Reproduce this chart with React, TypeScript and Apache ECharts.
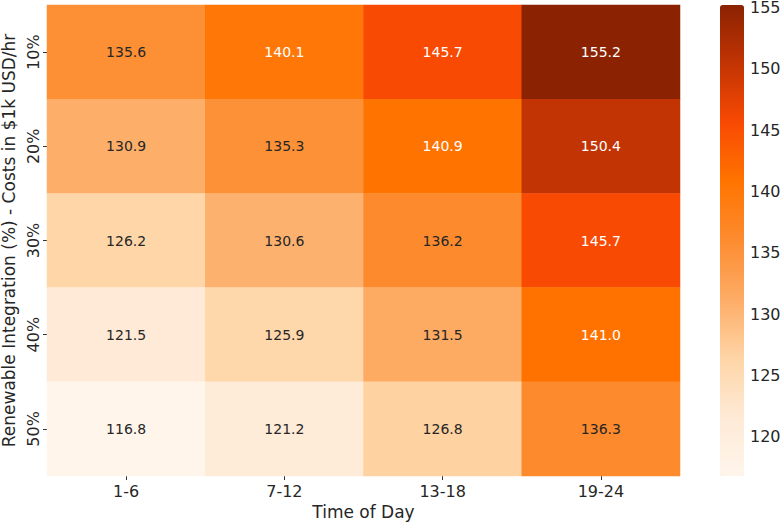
import React, { useEffect, useRef } from "react";
import * as echarts from "echarts";

const timeCategories = ["1-6", "7-12", "13-18", "19-24"];
const integrationLevels = ["10%", "20%", "30%", "40%", "50%"];
// rows: 10%, 20%, 30%, 40%, 50%; columns: 1-6, 7-12, 13-18, 19-24
const costs10 = [135.6, 140.1, 145.7, 155.2];
const costs20 = [130.9, 135.3, 140.9, 150.4];
const costs30 = [126.2, 130.6, 136.2, 145.7];
const costs40 = [121.5, 125.9, 131.5, 141.0];
const costs50 = [116.8, 121.2, 126.8, 136.3];
const colorbarTicks = [120, 125, 130, 135, 140, 145, 150, 155];
const valueMin = 116.8;
const valueMax = 155.2;

const FONT = "DejaVu Sans";
const TEXT = "#262626";

export default function App() {
  const ref = useRef<HTMLDivElement>(null);
  useEffect(() => {
    if (!ref.current) return;
    const chart = echarts.init(ref.current, null, { renderer: "svg" });
    const rows = [costs10, costs20, costs30, costs40, costs50];
    const data: any[] = [];
    rows.forEach((row, yi) => {
      row.forEach((v, xi) => {
        data.push({
          value: [xi, yi, v],
          label: { color: v > 138 ? "#ffffff" : TEXT },
        });
      });
    });
    chart.setOption({
      animation: false,
      textStyle: { fontFamily: FONT },
      grid: [
        { left: 47, top: 5, width: 633, height: 471, outerBoundsMode: "none", containLabel: false },
        { left: 720, top: 5, width: 24, height: 471, outerBoundsMode: "none", containLabel: false },
      ],
      xAxis: [
        {
          type: "category",
          data: timeCategories,
          gridIndex: 0,
          name: "Time of Day",
          nameLocation: "middle",
          nameGap: 27,
          nameTextStyle: { fontSize: 17, color: TEXT, fontFamily: FONT },
          axisLine: { show: false },
          axisTick: { show: true, alignWithLabel: true, length: 4, lineStyle: { color: "#333" } },
          axisLabel: { fontSize: 16, color: TEXT, margin: 7, fontFamily: FONT },
          splitLine: { show: false },
        },
        { type: "value", gridIndex: 1, show: false, min: 0, max: 1 },
      ],
      yAxis: [
        {
          type: "category",
          data: integrationLevels,
          gridIndex: 0,
          inverse: true,
          name: "Renewable Integration (%) - Costs in $1k USD/hr",
          nameLocation: "middle",
          nameGap: 29,
          nameTextStyle: { fontSize: 17, color: TEXT, fontFamily: FONT },
          axisLine: { show: false },
          axisTick: { show: true, alignWithLabel: true, length: 4, lineStyle: { color: "#333" } },
          axisLabel: { fontSize: 16, color: TEXT, rotate: 90, margin: 6, fontFamily: FONT },
          splitLine: { show: false },
        },
        {
          type: "value",
          gridIndex: 1,
          position: "right",
          min: valueMin,
          max: valueMax,
          axisLine: { show: false },
          axisTick: { show: true, length: 4, customValues: colorbarTicks, lineStyle: { color: "#333" } },
          axisLabel: { fontSize: 16, color: TEXT, margin: 6, customValues: colorbarTicks, fontFamily: FONT },
          splitLine: { show: false },
        },
      ],
      visualMap: {
        type: "continuous",
        seriesIndex: 0,
        min: valueMin,
        max: valueMax,
        calculable: false,
        left: 720,
        top: 5,
        itemWidth: 24,
        itemHeight: 471,
        padding: 0,
        text: ["", ""],
        showLabel: false,
        inRange: {
          color: [
            "#fff5eb",
            "#feead6",
            "#fed5a6",
            "#fdac66",
            "#fd8c30",
            "#ff7400",
            "#f94a03",
            "#c23403",
            "#8b2202",
          ],
        },
      },
      series: [
        {
          type: "heatmap",
          xAxisIndex: 0,
          yAxisIndex: 0,
          data,
          label: { show: true, fontSize: 14, fontFamily: FONT, formatter: (p: any) => p.value[2].toFixed(1) },
          itemStyle: { borderWidth: 0 },
          emphasis: { disabled: true },
        },
      ],
    });
    return () => chart.dispose();
  }, []);
  return (
    <div
      ref={ref}
      style={{ position: "fixed", left: 0, top: 0, width: 782, height: 524, background: "#fff" }}
    />
  );
}
